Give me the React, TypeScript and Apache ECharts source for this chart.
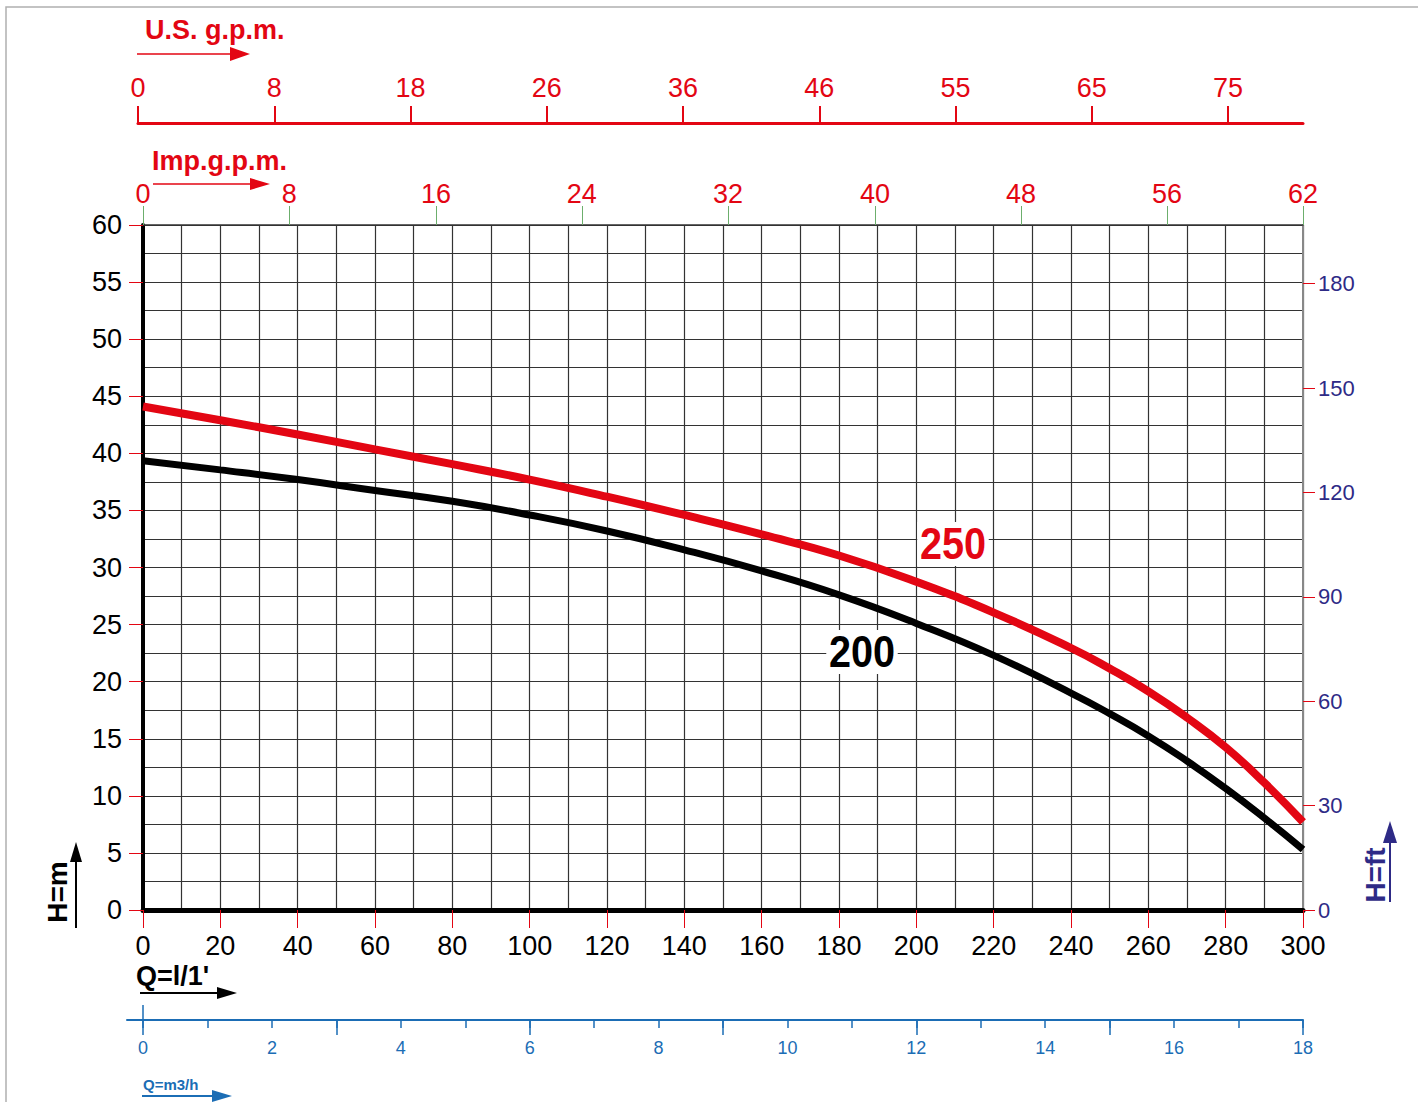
import React, { useEffect, useRef } from "react";
import * as echarts from "echarts";

// ---- Data ----
const flowLpm = [0, 20, 40, 60, 80, 100, 120, 140, 160, 180, 200, 220, 240, 250, 260, 270, 280, 290, 300];
const head250 = [44.1, 42.9, 41.65, 40.35, 39.05, 37.7, 36.2, 34.6, 32.9, 31.05, 28.75, 26.05, 22.95, 21.15, 19.15, 16.85, 14.25, 11.15, 7.7];
const head200 = [39.35, 38.55, 37.7, 36.75, 35.8, 34.6, 33.2, 31.55, 29.7, 27.6, 25.1, 22.3, 19.0, 17.2, 15.25, 13.05, 10.65, 8.05, 5.3];

const seriesNames = ["250", "200"];

// top scales
const usGpmLabels = ["0", "8", "18", "26", "36", "46", "55", "65", "75"];
const usGpmSlots = [0, 1, 2, 3, 4, 5, 6, 7, 8];
const impGpmLabels = ["0", "8", "16", "24", "32", "40", "48", "56", "62"];
const impGpmAtFlow = [0, 37.8, 75.8, 113.5, 151.3, 189.3, 227.1, 264.8, 300];

// right head scale (ft)
const ftTicks = [0, 30, 60, 90, 120, 150, 180];
const M_TO_FT = 3.28084;

// bottom m3/h scale
const m3hTicks = [0, 1, 2, 3, 4, 5, 6, 7, 8, 9, 10, 11, 12, 13, 14, 15, 16, 17, 18];
const m3hMajorTicks = [0, 3, 6, 9, 12, 15, 18];
const m3hLabels = [0, 2, 4, 6, 8, 10, 12, 14, 16, 18];

const RED = "#e30613";
const BLUE = "#1b6db5";
const NAVY = "#2e2a86";
const FONT = '"Liberation Sans", Arial, sans-serif';

function arrowH(x1: number, x2: number, y: number, color: string, head: number, half: number, lw: number) {
  return [
    { type: "line", shape: { x1, y1: y, x2: x2 - head + 2, y2: y }, style: { stroke: color, lineWidth: lw } },
    { type: "polygon", shape: { points: [[x2 - head, y - half], [x2, y], [x2 - head, y + half]] }, style: { fill: color } },
  ];
}
function arrowV(x: number, y1: number, y2: number, color: string, head: number, half: number, lw: number) {
  return [
    { type: "line", shape: { x1: x, y1, x2: x, y2: y2 + head - 2 }, style: { stroke: color, lineWidth: lw } },
    { type: "polygon", shape: { points: [[x - half, y2 + head], [x, y2], [x + half, y2 + head]] }, style: { fill: color } },
  ];
}
function txt(text: string, x: number, y: number, size: number, color: string, opts: any = {}) {
  return {
    type: "text",
    x,
    y,
    rotation: opts.rotation || 0,
    scaleX: opts.scaleX || 1,
    z: 10,
    style: {
      text,
      fill: color,
      fontSize: size,
      fontWeight: "bold",
      fontFamily: FONT,
      align: opts.align || "left",
      textAlign: opts.align || "left",
      verticalAlign: "middle",
      textVerticalAlign: "middle",
      backgroundColor: opts.bg,
      padding: opts.bg ? [0, 3] : 0,
    },
  };
}

function nearestLabel(v: number, at: number[], labels: string[]) {
  let best = 0;
  for (let i = 1; i < at.length; i++) if (Math.abs(at[i] - v) < Math.abs(at[best] - v)) best = i;
  return labels[best];
}

export default function App() {
  const ref = useRef<HTMLDivElement>(null);
  useEffect(() => {
    if (!ref.current) return;
    const chart = echarts.init(ref.current, undefined, { renderer: "svg" });
    const gridLine = { color: "#333", width: 1.2 };
    const option: any = {
      animation: false,
      backgroundColor: "#fff",
      grid: [
        { left: 143, top: 225, width: 1160, height: 685 },
        { left: 138, top: 123, width: 1165, height: 1 },
        { left: 127, top: 1019, width: 1176, height: 1 },
      ],
      xAxis: [
        {
          gridIndex: 0, type: "value", position: "bottom", min: 0, max: 300, interval: 20,
          axisLine: { show: true, onZero: false, lineStyle: { color: "#000", width: 5 } },
          axisTick: { show: true, length: 18, lineStyle: { color: RED, width: 1 } },
          axisLabel: { color: "#000", fontSize: 27, fontFamily: FONT, margin: 22 },
          splitLine: { show: true, lineStyle: gridLine },
          minorTick: { show: false, splitNumber: 2 },
          minorSplitLine: { show: true, lineStyle: gridLine },
        },
        {
          gridIndex: 0, type: "value", position: "top", min: 0, max: 300,
          axisLine: { show: true, onZero: false, lineStyle: { color: "#333", width: 1.5 } },
          axisTick: { show: true, customValues: impGpmAtFlow, length: 19, lineStyle: { color: "#6cae6c", width: 1 } },
          axisLabel: {
            customValues: impGpmAtFlow, color: RED, fontSize: 27, fontFamily: FONT, margin: 18,
            formatter: (v: number) => nearestLabel(v, impGpmAtFlow, impGpmLabels),
          },
          splitLine: { show: false },
        },
        {
          gridIndex: 1, type: "value", position: "top", min: 0, max: 8.55,
          axisLine: { show: true, onZero: false, lineStyle: { color: RED, width: 3 } },
          axisTick: { show: true, customValues: usGpmSlots, length: 17, lineStyle: { color: RED, width: 2 } },
          axisLabel: {
            customValues: usGpmSlots, color: RED, fontSize: 27, fontFamily: FONT, margin: 22,
            formatter: (v: number) => usGpmLabels[Math.round(v)] ?? "",
          },
          splitLine: { show: false },
        },
        {
          gridIndex: 2, type: "value", position: "bottom", min: -0.25, max: 18,
          axisLine: { show: true, onZero: false, lineStyle: { color: BLUE, width: 2 } },
          axisTick: { show: true, customValues: m3hTicks, length: 8, lineStyle: { color: BLUE, width: 1.5 } },
          axisLabel: { customValues: m3hLabels, color: BLUE, fontSize: 18, fontFamily: FONT, margin: 19 },
          splitLine: { show: false },
        },
        {
          gridIndex: 2, type: "value", position: "bottom", min: -0.25, max: 18,
          axisLine: { show: false },
          axisTick: { show: true, customValues: m3hMajorTicks, length: 15, lineStyle: { color: BLUE, width: 1.5 } },
          axisLabel: { show: false },
          splitLine: { show: false },
        },
        {
          gridIndex: 2, type: "value", position: "top", min: -0.25, max: 18,
          axisLine: { show: false },
          axisTick: { show: true, customValues: [0], length: 14, lineStyle: { color: BLUE, width: 1.5 } },
          axisLabel: { show: false },
          splitLine: { show: false },
        },
      ],
      yAxis: [
        {
          gridIndex: 0, type: "value", position: "left", min: 0, max: 60, interval: 5,
          axisLine: { show: true, onZero: false, lineStyle: { color: "#000", width: 4 } },
          axisTick: { show: true, length: 14, lineStyle: { color: RED, width: 1 } },
          axisLabel: { color: "#000", fontSize: 27, fontFamily: FONT, margin: 21 },
          splitLine: { show: true, lineStyle: gridLine },
          minorTick: { show: false, splitNumber: 2 },
          minorSplitLine: { show: true, lineStyle: gridLine },
        },
        {
          gridIndex: 0, type: "value", position: "right", min: 0, max: 60 * M_TO_FT,
          axisLine: { show: true, onZero: false, lineStyle: { color: "#888", width: 2 } },
          axisTick: { show: true, customValues: ftTicks, length: 12, lineStyle: { color: RED, width: 1 } },
          axisLabel: { customValues: ftTicks, color: NAVY, fontSize: 22, fontFamily: FONT, margin: 15 },
          splitLine: { show: false },
        },
        { gridIndex: 1, type: "value", show: false, min: 0, max: 1 },
        { gridIndex: 2, type: "value", show: false, min: 0, max: 1 },
      ],
      series: [
        {
          name: seriesNames[0], type: "line", xAxisIndex: 0, yAxisIndex: 0,
          data: flowLpm.map((q, i) => [q, head250[i]]),
          smooth: 0.5, showSymbol: false, symbol: "none",
          lineStyle: { color: RED, width: 8 }, z: 5,
        },
        {
          name: seriesNames[1], type: "line", xAxisIndex: 0, yAxisIndex: 0,
          data: flowLpm.map((q, i) => [q, head200[i]]),
          smooth: 0.5, showSymbol: false, symbol: "none",
          lineStyle: { color: "#000", width: 7 }, z: 4,
        },
      ],
      graphic: [
        { type: "rect", shape: { x: 6, y: 7, width: 1420, height: 1100 }, style: { fill: "none", stroke: "#b0b0b0", lineWidth: 1.5 }, z: 0 },
        txt("U.S. g.p.m.", 145, 30, 27, RED),
        ...arrowH(137, 250, 54, RED, 20, 7, 1.5),
        txt("Imp.g.p.m.", 152, 161, 27, RED),
        ...arrowH(153, 270, 184, RED, 20, 6, 1.5),
        txt("Q=l/1'", 136, 976, 27, "#000"),
        ...arrowH(140, 237, 993, "#000", 20, 6, 2),
        txt("Q=m3/h", 143, 1084, 15, BLUE),
        ...arrowH(142, 232, 1096, BLUE, 20, 6, 2),
        txt("H=m", 57, 892, 28, "#000", { rotation: Math.PI / 2, align: "center" }),
        ...arrowV(76, 928, 842, "#000", 20, 6, 2),
        txt("H=ft", 1375, 875, 28, NAVY, { rotation: Math.PI / 2, align: "center" }),
        ...arrowV(1390, 902, 821, NAVY, 22, 7, 2),
        txt(seriesNames[0], 953, 544, 44, RED, { align: "center", bg: "#fff", scaleX: 0.9 }),
        txt(seriesNames[1], 862, 652, 44, "#000", { align: "center", bg: "#fff", scaleX: 0.9 }),
      ],
    };
    chart.setOption(option);
    return () => chart.dispose();
  }, []);
  return (
    <div
      ref={ref}
      style={{ position: "absolute", left: 0, top: 0, width: 1418, height: 1102, background: "#fff" }}
    />
  );
}
